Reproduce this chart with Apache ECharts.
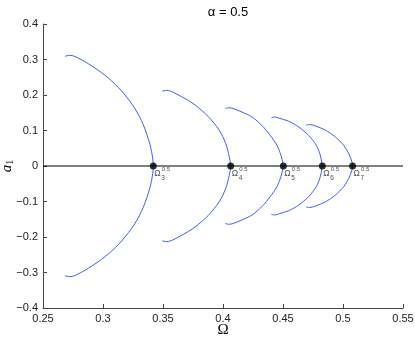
<!DOCTYPE html>
<html>
<head>
<meta charset="utf-8">
<script src="https://cdn.jsdelivr.net/npm/echarts@6/dist/echarts.min.js"></script>
<style>html,body{margin:0;padding:0;background:#fff}#c{width:415px;height:338px}</style>
</head>
<body>
<div id="c"></div>
<script>
// Upper halves of each branch (from left end to the bifurcation point); lower half is the mirror image
var omega1 = [0.2683, 0.2725, 0.2822, 0.2933, 0.3044, 0.3156, 0.3264, 0.3336, 0.3392, 0.3414, 0.3419];
var amp1   = [0.309, 0.312, 0.299, 0.276, 0.248, 0.211, 0.163, 0.116, 0.060, 0.022, 0];
var omega2 = [0.3494, 0.353, 0.3656, 0.3767, 0.3878, 0.3968, 0.4022, 0.4052, 0.4064];
var amp2   = [0.211, 0.213, 0.195, 0.172, 0.139, 0.101, 0.064, 0.026, 0];
var omega3 = [0.4019, 0.4045, 0.4075, 0.4158, 0.4242, 0.4325, 0.4394, 0.4450, 0.4483, 0.4500, 0.4503];
var amp3   = [0.162, 0.164, 0.163, 0.152, 0.138, 0.114, 0.086, 0.058, 0.030, 0.006, 0];
var omega4 = [0.4403, 0.4430, 0.4464, 0.4548, 0.4631, 0.4714, 0.4778, 0.4811, 0.4825, 0.4828];
var amp4   = [0.136, 0.138, 0.135, 0.126, 0.110, 0.086, 0.058, 0.030, 0.006, 0];
var omega5 = [0.4692, 0.4720, 0.4769, 0.4853, 0.4936, 0.5006, 0.5048, 0.5075, 0.5080];
var amp5   = [0.115, 0.117, 0.113, 0.101, 0.082, 0.058, 0.035, 0.011, 0];

var pointOmega = [0.3419, 0.4064, 0.4503, 0.4828, 0.5080];
var pointSub = ['3', '4', '5', '6', '7'];
var pointSup = '0.5';
var titleText = 'α = 0.5';

var branches = [[omega1, amp1], [omega2, amp2], [omega3, amp3], [omega4, amp4], [omega5, amp5]];

function buildBranch(om, am) {
  var d = [];
  for (var i = 0; i < om.length; i++) d.push([om[i], am[i]]);
  for (var j = om.length - 2; j >= 0; j--) d.push([om[j], -am[j]]);
  return d;
}

var series = [];
series.push({
  type: 'line', data: [[0.25, 0], [0.55, 0]], symbol: 'none', silent: true,
  lineStyle: { color: '#000', width: 1 }, z: 1
});
branches.forEach(function (b) {
  series.push({
    type: 'line', data: buildBranch(b[0], b[1]), symbol: 'none', smooth: 0.3,
    lineStyle: { color: '#3d5fff', width: 1 }, z: 2
  });
});
var pts = pointOmega.map(function (w, i) { return { value: [w, 0], sub: pointSub[i] }; });
series.push({
  type: 'scatter', data: pts, symbolSize: 7, itemStyle: { color: '#000' }, z: 5
});
function labelSeries(fmt, pos, size) {
  return {
    type: 'scatter', data: pts, symbolSize: 0.01, itemStyle: { color: 'transparent' }, z: 6,
    label: {
      show: true, position: pos, formatter: fmt, align: 'left', verticalAlign: 'middle',
      fontSize: size, color: '#222', fontFamily: 'Liberation Sans, Arial, sans-serif'
    }
  };
}
series.push(labelSeries(function () { return 'Ω'; }, [1, 8], 8.5));
series.push(labelSeries(function () { return pointSup; }, [8.5, 3.5], 6));
series.push(labelSeries(function (p) { return p.data.sub; }, [8, 12.5], 6.5));

var chart = echarts.init(document.getElementById('c'));
chart.setOption({
  animation: false,
  backgroundColor: '#fff',
  title: {
    text: titleText, left: 223, top: 1, textAlign: 'center',
    textStyle: { fontSize: 13, fontWeight: 'normal', color: '#000', fontFamily: 'Liberation Sans, Arial, sans-serif' }
  },
  grid: { left: 43, right: 12, top: 24, bottom: 30, containLabel: false, outerBoundsMode: 'none' },
  xAxis: {
    type: 'value', min: 0.25, max: 0.55, interval: 0.05,
    name: 'Ω', nameLocation: 'middle', nameGap: 15, nameMoveOverlap: false,
    nameTextStyle: { fontSize: 15, color: '#000', fontFamily: 'Liberation Serif, Times New Roman, serif' },
    axisLine: { onZero: false, lineStyle: { color: '#444', width: 1 } },
    axisTick: { inside: true, length: 4, lineStyle: { color: '#444' } },
    axisLabel: {
      margin: 5, fontSize: 11, color: '#222', fontFamily: 'Liberation Sans, Arial, sans-serif',
      formatter: function (v) { return String(+v.toFixed(2)); }
    },
    splitLine: { show: false }
  },
  yAxis: {
    type: 'value', min: -0.4, max: 0.4, interval: 0.1,
    name: '{a|a}{s|1}', nameLocation: 'middle', nameGap: 28, nameRotate: 90, nameMoveOverlap: false,
    nameTextStyle: {
      color: '#000',
      rich: {
        a: { fontSize: 15, fontStyle: 'italic', fontFamily: 'Liberation Serif, Times New Roman, serif', color: '#000' },
        s: { fontSize: 10, fontFamily: 'Liberation Serif, Times New Roman, serif', color: '#000', padding: [6, 0, 0, 0] }
      }
    },
    axisLine: { onZero: false, lineStyle: { color: '#444', width: 1 } },
    axisTick: { inside: true, length: 4, lineStyle: { color: '#444' } },
    axisLabel: {
      margin: 5, fontSize: 11, color: '#222', fontFamily: 'Liberation Sans, Arial, sans-serif',
      formatter: function (v) { var s = String(+v.toFixed(2)); return s.replace('-', '\u2212'); }
    },
    splitLine: { show: false }
  },
  series: series
});
</script>
</body>
</html>
